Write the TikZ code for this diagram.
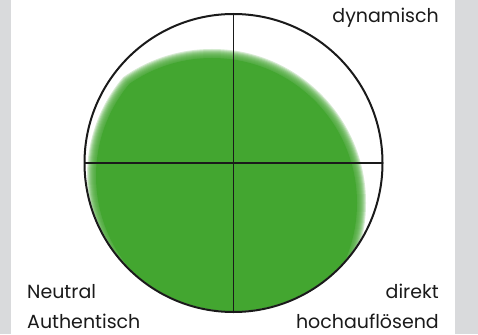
\documentclass[tikz,border=0pt]{standalone}
\usepackage{fontspec}
\setmainfont{Poppins}
\definecolor{grn}{RGB}{67,166,48}
\definecolor{side}{RGB}{217,218,220}
\definecolor{ink}{RGB}{26,26,26}
\tikzset{
  lbl/.style={inner sep=0pt, text=ink, font=\fontsize{19}{21}\selectfont},
  axis/.style={line width=1.5pt, ink},
  rim/.style={line width=2pt, ink}
}
\begin{document}
\begin{tikzpicture}[x=1pt,y=-1pt]
\useasboundingbox (0,0) rectangle (478,334);
\fill[white] (0,0) rectangle (478,334);
\fill[side] (0,0) rectangle (11,334);
\fill[side] (455,0) rectangle (478,334);
\coordinate (c) at (233.5,163);
\coordinate (ga) at (212,203);
\coordinate (gb) at (240,176);
\begin{scope}
  \clip (c) circle[radius=148];
  \foreach \d in {-4,...,4}{
    \begin{scope}
      \clip (ga) circle[radius=150+\d];
      \fill[grn, opacity=0.22] (gb) circle[radius=149+\d];
    \end{scope}
  }
  \begin{scope}
    \clip (ga) circle[radius=145];
    \fill[grn] (gb) circle[radius=144];
  \end{scope}
\end{scope}
\coordinate (t) at (233.5,14);
\coordinate (b) at (233.5,312);
\coordinate (l) at (84.5,163);
\coordinate (r) at (382.5,163);
\draw[axis] (t) -- (b);
\draw[axis] (l) -- (r);
\draw[rim] (c) circle[radius=149];
\node[lbl, anchor=base east] (dyn) at (439,23) {dynamisch};
\node[lbl, anchor=base west] (neu) at (27,298) {Neutral};
\node[lbl, anchor=base west] (aut) at (27,328) {Authentisch};
\node[lbl, anchor=base east] (dir) at (439,298) {direkt};
\node[lbl, anchor=base east] (hoc) at (439,328) {hochauflösend};
\end{tikzpicture}
\end{document}
